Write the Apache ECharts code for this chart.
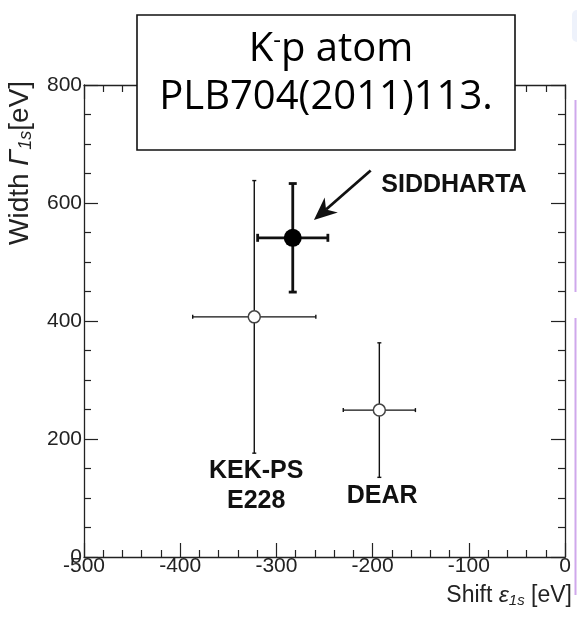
<!DOCTYPE html>
<html><head><meta charset="utf-8">
<script src="https://cdn.jsdelivr.net/npm/echarts@6/dist/echarts.min.js"></script>
<style>html,body{margin:0;padding:0;background:#fff}#c{width:577px;height:620px}</style>
</head><body><div id="c"></div>
<script>
// Data
const experiments = ['SIDDHARTA', 'KEK-PS', 'DEAR'];
const shift = [-283, -323, -193];
const shiftErr = [36.5, 64, 37.5];
const width = [541, 407, 249];
const widthErr = [92, 231, 114];
const filled = [true, false, false];
const xTicks = [-500, -400, -300, -200, -100, 0];
const yTicks = [0, 200, 400, 600, 800];
// annotation anchors in data space
const labelTexts = ['SIDDHARTA', 'KEK-PS', 'E228', 'DEAR'];
const labelX = [-191, -321, -321, -190];
const labelY = [630, 146, 94, 103];
const labelAlign = ['left', 'center', 'center', 'center'];
const arrowFrom = [-202, 655];
const arrowTo = [-261, 571];

const FONT = '"Liberation Sans", Arial, Helvetica, sans-serif';
const BOXFONT = '"Open Sans", "Noto Sans", sans-serif';
const chart = echarts.init(document.getElementById('c'), null, {renderer: 'canvas'});

const pts = experiments.map((n, i) => [shift[i], width[i], shiftErr[i], widthErr[i], filled[i] ? 1 : 0]);

function errItem(params, api) {
  const x = api.value(0), y = api.value(1), ex = api.value(2), ey = api.value(3), f = api.value(4);
  const c = api.coord([x, y]);
  const l = api.coord([x - ex, y]), r = api.coord([x + ex, y]);
  const t = api.coord([x, y + ey]), b = api.coord([x, y - ey]);
  const lw = f ? 2.8 : 1.4;
  const cap = f ? 4 : 2;
  const st = {stroke: '#111', lineWidth: lw};
  const ch = [
    {type: 'line', shape: {x1: l[0], y1: l[1], x2: r[0], y2: r[1]}, style: st},
    {type: 'line', shape: {x1: t[0], y1: t[1], x2: b[0], y2: b[1]}, style: st},
    {type: 'line', shape: {x1: l[0], y1: l[1] - cap, x2: l[0], y2: l[1] + cap}, style: st},
    {type: 'line', shape: {x1: r[0], y1: r[1] - cap, x2: r[0], y2: r[1] + cap}, style: st},
    {type: 'line', shape: {x1: t[0] - cap, y1: t[1], x2: t[0] + cap, y2: t[1]}, style: st},
    {type: 'line', shape: {x1: b[0] - cap, y1: b[1], x2: b[0] + cap, y2: b[1]}, style: st},
    f ? {type: 'circle', shape: {cx: c[0], cy: c[1], r: 9}, style: {fill: '#000'}}
      : {type: 'circle', shape: {cx: c[0], cy: c[1], r: 6}, style: {fill: '#fff', stroke: '#444', lineWidth: 1.5}}
  ];
  return {type: 'group', children: ch};
}

const labelData = labelTexts.map((t, i) => [labelX[i], labelY[i], i]);
function labelItem(params, api) {
  const i = api.value(2);
  const p = api.coord([api.value(0), api.value(1)]);
  return {type: 'text', x: p[0], y: p[1], style: {text: labelTexts[i], fill: '#111',
    font: 'bold 25px ' + FONT, textAlign: labelAlign[i], textVerticalAlign: 'middle'}};
}
function arrowItem(params, api) {
  const a = api.coord(arrowFrom), b = api.coord(arrowTo);
  const ang = Math.atan2(b[1] - a[1], b[0] - a[0]);
  const L = 23, W = 10;
  const bx = b[0] - L * Math.cos(ang), by = b[1] - L * Math.sin(ang);
  const nx = -Math.sin(ang), ny = Math.cos(ang);
  const mx = b[0] - 0.7 * L * Math.cos(ang), my = b[1] - 0.7 * L * Math.sin(ang);
  return {type: 'group', children: [
    {type: 'line', shape: {x1: a[0], y1: a[1], x2: mx, y2: my}, style: {stroke: '#111', lineWidth: 2.8}},
    {type: 'polygon', shape: {points: [[b[0], b[1]], [bx + nx * W, by + ny * W], [mx, my], [bx - nx * W, by - ny * W]]}, style: {fill: '#111'}}
  ]};
}

const axisCommon = {
  type: 'value', splitLine: {show: false},
  axisLine: {show: true, onZero: false, lineStyle: {color: '#222', width: 1.3}},
  axisTick: {show: true, inside: true, length: 14, lineStyle: {color: '#222', width: 1.2}},
  minorTick: {show: true, length: 7, lineStyle: {color: '#222', width: 1.2}},
  minorSplitLine: {show: false}
};
const labelStyle = {color: '#222', fontFamily: FONT, fontSize: 21};

chart.setOption({
  animation: false,
  backgroundColor: '#fff',
  grid: {left: 84, right: 12, top: 85, bottom: 63, containLabel: false},
  xAxis: [
    Object.assign({}, axisCommon, {position: 'bottom', min: xTicks[0], max: xTicks[xTicks.length - 1], interval: 100,
      minorTick: Object.assign({}, axisCommon.minorTick, {splitNumber: 5}),
      axisLabel: Object.assign({}, labelStyle, {margin: -1})}),
    Object.assign({}, axisCommon, {position: 'top', min: xTicks[0], max: xTicks[xTicks.length - 1], interval: 100,
      minorTick: Object.assign({}, axisCommon.minorTick, {splitNumber: 5}), axisLabel: {show: false}})
  ],
  yAxis: [
    Object.assign({}, axisCommon, {position: 'left', min: yTicks[0], max: yTicks[yTicks.length - 1], interval: 200,
      minorTick: Object.assign({}, axisCommon.minorTick, {splitNumber: 4}),
      axisLabel: Object.assign({}, labelStyle, {margin: 2})}),
    Object.assign({}, axisCommon, {position: 'right', min: yTicks[0], max: yTicks[yTicks.length - 1], interval: 200,
      minorTick: Object.assign({}, axisCommon.minorTick, {splitNumber: 4}), axisLabel: {show: false}})
  ],
  series: [
    {type: 'custom', xAxisIndex: 0, yAxisIndex: 0, data: pts, renderItem: errItem, clip: false, z: 5},
    {type: 'custom', xAxisIndex: 0, yAxisIndex: 0, data: labelData, renderItem: labelItem, clip: false, z: 6},
    {type: 'custom', xAxisIndex: 0, yAxisIndex: 0, data: [[0, 0]], renderItem: arrowItem, clip: false, z: 6}
  ],
  graphic: [
    {type: 'text', right: 5, top: 584, style: {
      text: '{n|Shift }{g|ε}{s|1s}{n| [eV]}',
      rich: {n: {fontFamily: FONT, fontSize: 23, fill: '#222'},
             g: {fontFamily: FONT, fontSize: 23, fontStyle: 'italic', fill: '#222'},
             s: {fontFamily: FONT, fontSize: 15, fontStyle: 'italic', fill: '#222', verticalAlign: 'bottom', padding: [10, 0, 0, 0]}}}},
    {type: 'text', x: 5, y: 245, rotation: Math.PI / 2, style: {
      text: '{n|Width }{g|Γ}{s|1s}{n|[eV]}',
      rich: {n: {fontFamily: FONT, fontSize: 28, fill: '#222'},
             g: {fontFamily: FONT, fontSize: 28, fontStyle: 'italic', fill: '#222'},
             s: {fontFamily: FONT, fontSize: 18, fontStyle: 'italic', fill: '#222', verticalAlign: 'bottom', padding: [12, 0, 0, 0]}}}},
    {type: 'rect', shape: {x: 137, y: 15, width: 378, height: 135}, style: {fill: '#fff', stroke: '#111', lineWidth: 1.6}, z: 100},
    {type: 'text', x: 331, y: 50, z: 101, style: {
      text: '{a|K}{b|-}{a|p atom}', textAlign: 'center', textVerticalAlign: 'middle',
      rich: {a: {fontFamily: BOXFONT, fontSize: 40, fill: '#000'},
             b: {fontFamily: BOXFONT, fontSize: 24, fill: '#000', verticalAlign: 'top', padding: [0, 0, 18, 0]}}}},
    {type: 'text', x: 326, y: 98, z: 101, style: {
      text: 'PLB704(2011)113.', textAlign: 'center', textVerticalAlign: 'middle',
      font: '40px ' + BOXFONT, fill: '#000'}},
    {type: 'line', shape: {x1: 575.5, y1: 100, x2: 575.5, y2: 292}, style: {stroke: '#cfa8ec', lineWidth: 2}},
    {type: 'line', shape: {x1: 575.5, y1: 318, x2: 575.5, y2: 595}, style: {stroke: '#cfa8ec', lineWidth: 2}},
    {type: 'rect', shape: {x: 572, y: 10, width: 10, height: 32, r: 5}, style: {fill: '#eef2fb'}}
  ]
});
</script></body></html>
